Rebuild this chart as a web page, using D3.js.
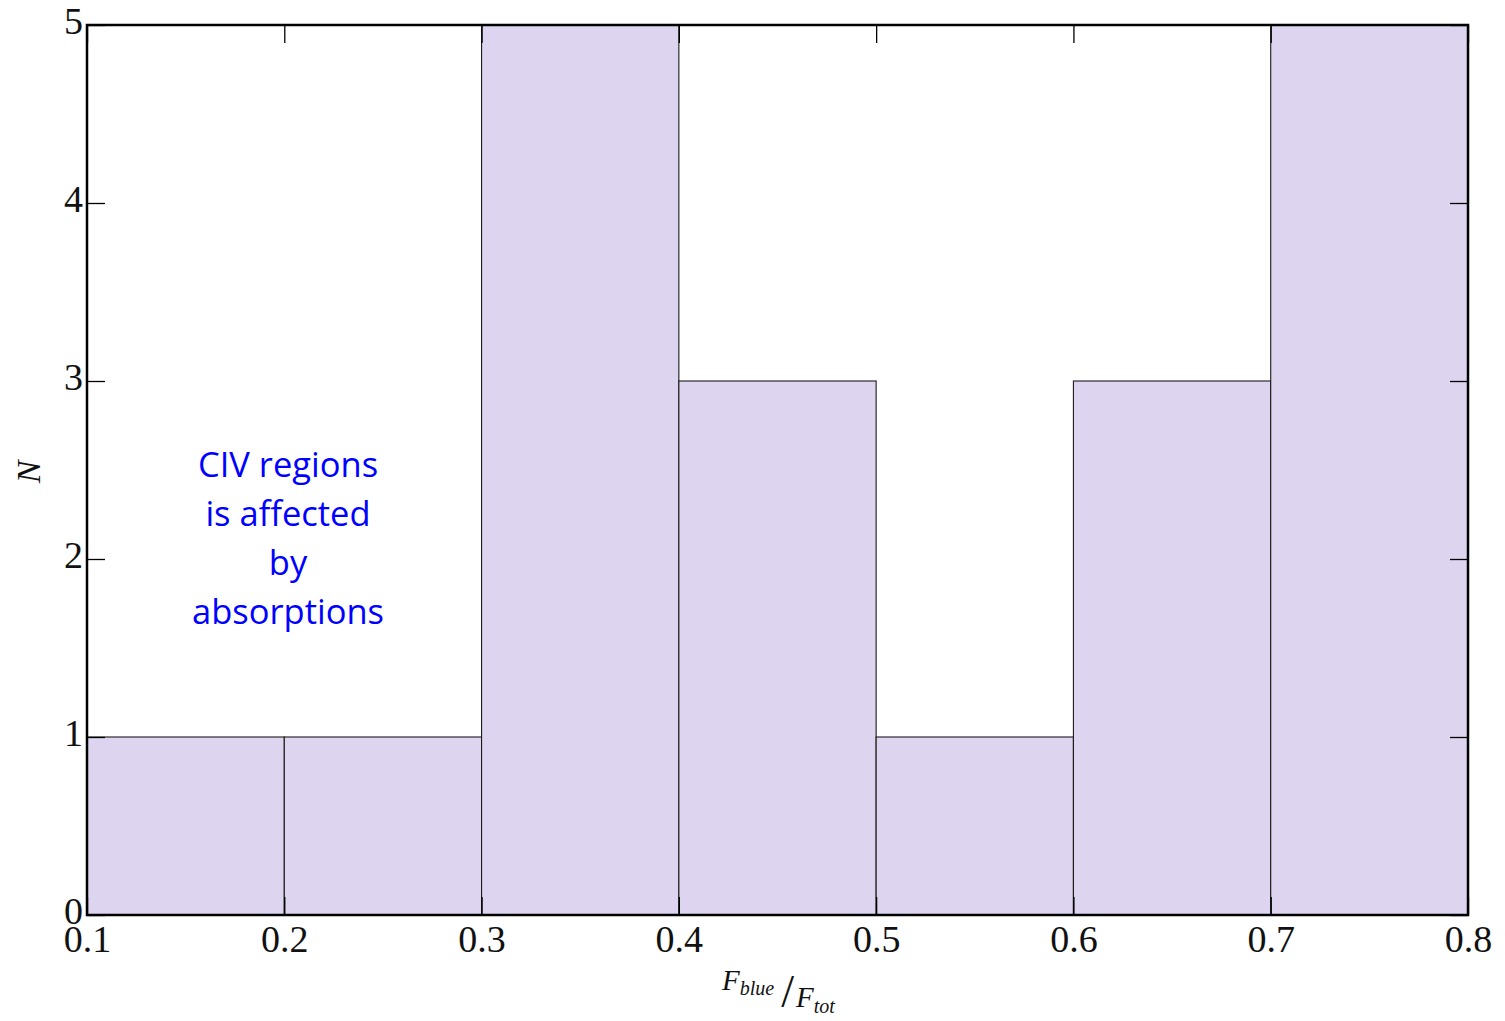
<!DOCTYPE html>
<html>
<head>
<meta charset="utf-8">
<script src="https://cdn.jsdelivr.net/npm/d3@7"></script>
<style>
  body { margin: 0; background: #fff; }
  svg text { font-family: "Liberation Serif", "DejaVu Serif", serif; }
</style>
</head>
<body>
<div id="chart"></div>
<script>
// histogram bins (left edges, right edges) and counts
var binStarts = [0.1, 0.2, 0.3, 0.4, 0.5, 0.6, 0.7];
var binEnds = [0.2, 0.3, 0.4, 0.5, 0.6, 0.7, 0.8];
var counts = [1, 1, 5, 3, 1, 3, 5];
var xTicks = [0.1, 0.2, 0.3, 0.4, 0.5, 0.6, 0.7, 0.8];
var yTicks = [0, 1, 2, 3, 4, 5];
var noteLines = ["CIV regions", "is affected", "by", "absorptions"];

var W = 1505, H = 1021;
var margin = {left: 87, right: 37, top: 25, bottom: 106};
var width = W - margin.left - margin.right;
var height = H - margin.top - margin.bottom;

var svg = d3.select("#chart").append("svg")
    .attr("width", W)
    .attr("height", H);

var chart = svg.append("g")
    .attr("transform", "translate(" + margin.left + "," + margin.top + ")");

var x = d3.scaleLinear().domain([0.1, 0.8]).range([0, width]);
var y = d3.scaleLinear().domain([0, 5]).range([height, 0]);

var bins = binStarts.map(function(s, i) {
    return {x0: s, x1: binEnds[i], n: counts[i]};
});

// bars
chart.append("g").selectAll("rect")
    .data(bins)
    .enter()
    .append("rect")
    .attr("x", function(d) { return x(d.x0); })
    .attr("width", function(d) { return x(d.x1) - x(d.x0); })
    .attr("y", function(d) { return y(d.n); })
    .attr("height", function(d) { return height - y(d.n); })
    .attr("fill", "#ddd5ef")
    .attr("stroke", "#1a1a1a")
    .attr("stroke-width", 1.1);

// inward ticks on all four sides
var tickLen = 18;
var xAxisB = d3.axisBottom(x).tickValues(xTicks).tickSizeInner(-tickLen).tickSizeOuter(0)
    .tickFormat(d3.format(".1f")).tickPadding(10);
var xAxisT = d3.axisTop(x).tickValues(xTicks).tickSizeInner(-tickLen).tickSizeOuter(0)
    .tickFormat("");
var yAxisL = d3.axisLeft(y).tickValues(yTicks).tickSizeInner(-tickLen).tickSizeOuter(0)
    .tickFormat(d3.format("d")).tickPadding(4);
var yAxisR = d3.axisRight(y).tickValues(yTicks).tickSizeInner(-tickLen).tickSizeOuter(0)
    .tickFormat("");

function styleAxis(g) {
    g.select(".domain").remove();
    g.selectAll(".tick line").attr("stroke", "#000").attr("stroke-width", 1.3);
    g.selectAll("text")
        .attr("fill", "#111")
        .style("font-family", "'Liberation Serif', 'DejaVu Serif', serif")
        .style("font-size", "38px");
}

chart.append("g").attr("transform", "translate(0," + height + ")").call(xAxisB).call(styleAxis);
chart.append("g").call(xAxisT).call(styleAxis);
var yl = chart.append("g").call(yAxisL).call(styleAxis);
// matplotlib puts the y labels a touch above the tick
yl.selectAll("text").attr("dy", "0.22em");
chart.append("g").attr("transform", "translate(" + width + ",0)").call(yAxisR).call(styleAxis);

// frame
chart.append("rect")
    .attr("width", width)
    .attr("height", height)
    .attr("fill", "none")
    .attr("stroke", "#000")
    .attr("stroke-width", 2.5);

// axis labels
svg.append("text")
    .attr("transform", "translate(40," + (margin.top + height / 2 + 2) + ") rotate(-90)")
    .attr("text-anchor", "middle")
    .style("font-style", "italic")
    .style("font-size", "34px")
    .attr("fill", "#111")
    .text("N");

var xl = svg.append("text")
    .attr("x", 722)
    .attr("y", 990)
    .style("font-style", "italic")
    .attr("fill", "#111");
xl.append("tspan").style("font-size", "29px").text("F");
xl.append("tspan").style("font-size", "20px").attr("dy", 5).text("blue");
xl.append("tspan").style("font-size", "46px").style("font-style", "normal").attr("dx", 7).attr("dy", 12).text("/");
xl.append("tspan").style("font-size", "29px").attr("dx", 2).attr("dy", 0).text("F");
xl.append("tspan").style("font-size", "20px").attr("dy", 6).text("tot");

// annotation
svg.append("g").selectAll("text")
    .data(noteLines)
    .enter()
    .append("text")
    .attr("x", 288)
    .attr("y", function(d, i) { return 477 + i * 49; })
    .attr("text-anchor", "middle")
    .attr("fill", "#0000ff")
    .style("font-family", "'Open Sans', 'Noto Sans', sans-serif")
    .style("font-size", "34.5px")
    .text(function(d) { return d; });
</script>
</body>
</html>
